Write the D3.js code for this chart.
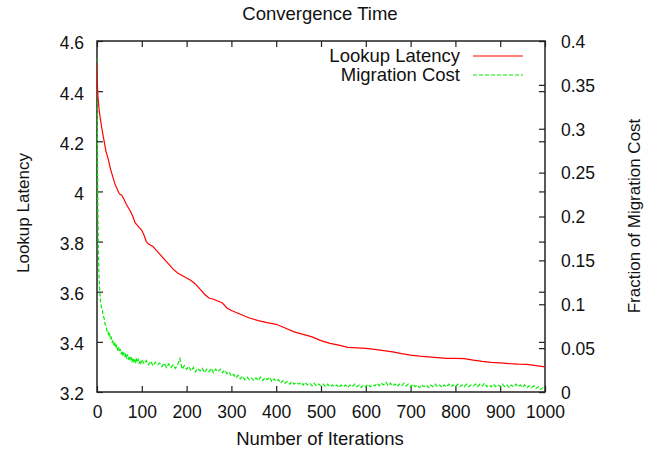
<!DOCTYPE html>
<html><head><meta charset="utf-8">
<script src="https://cdn.jsdelivr.net/npm/d3@7"></script>
<style>
html,body{margin:0;padding:0;background:#fff;}
svg text{font-family:"Liberation Sans",Arial,Helvetica,sans-serif;fill:#111;}
</style></head>
<body><svg id="chart" width="652" height="454"></svg>
<script>
const title = "Convergence Time";
const xLabel = "Number of Iterations";
const yLabel = "Lookup Latency";
const y2Label = "Fraction of Migration Cost";
const seriesNames = ["Lookup Latency", "Migration Cost"];
const xTicks = [0,100,200,300,400,500,600,700,800,900,1000];
const yTicks = [3.2,3.4,3.6,3.8,4,4.2,4.4,4.6];
const y2Ticks = [0,0.05,0.1,0.15,0.2,0.25,0.3,0.35,0.4];

const latencyIter = [0,1,2,5,10,15,20,25,30,35,40,45,50,55,60,65,70,75,80,85,90,95,100,105,110,115,120,125,130,140,150,160,170,180,190,200,210,220,230,240,250,260,270,280,290,300,320,340,360,380,400,420,440,460,480,500,520,540,560,580,600,620,640,660,680,700,720,740,760,780,800,820,840,860,880,900,920,940,960,980,1000];
const latencyVal = [4.51,4.42,4.38,4.32,4.26,4.21,4.16,4.13,4.09,4.06,4.03,4.01,3.99,3.985,3.97,3.95,3.935,3.92,3.90,3.875,3.865,3.855,3.845,3.825,3.80,3.79,3.785,3.78,3.77,3.75,3.73,3.71,3.69,3.675,3.665,3.655,3.645,3.63,3.61,3.59,3.575,3.57,3.563,3.555,3.535,3.525,3.51,3.495,3.485,3.477,3.47,3.455,3.44,3.43,3.42,3.405,3.394,3.387,3.378,3.376,3.374,3.37,3.365,3.36,3.353,3.347,3.343,3.34,3.337,3.334,3.334,3.333,3.327,3.322,3.318,3.316,3.313,3.311,3.31,3.305,3.30];

const costIter = [0,1,2,3,4,5,6,7,8,9,10,
12,14,16,18,20,22,24,26,28,30,32,34,36,38,40,42,44,46,48,50,52,54,56,58,60,62,64,66,68,70,72,74,76,78,80,82,84,86,88,90,92,94,96,98,100,
105,110,115,120,125,130,135,140,145,150,155,160,165,170,175,180,185,190,195,200,
205,210,215,220,225,230,235,240,245,250,255,260,265,270,275,280,285,290,295,300,
305,310,315,320,325,330,335,340,345,350,355,360,365,370,375,380,385,390,395,400,
405,410,415,420,425,430,435,440,445,450,455,460,465,470,475,480,485,490,495,500,
505,510,515,520,525,530,535,540,545,550,555,560,565,570,575,580,585,590,595,600,
605,610,615,620,625,630,635,640,645,650,655,660,665,670,675,680,685,690,695,700,
705,710,715,720,725,730,735,740,745,750,755,760,765,770,775,780,785,790,795,800,
805,810,815,820,825,830,835,840,845,850,855,860,865,870,875,880,885,890,895,900,
905,910,915,920,925,930,935,940,945,950,955,960,965,970,975,980,985,990,995,1000];
const costVal = [0.38,0.29,0.21,0.165,0.14,0.126,0.114,0.109,0.102,0.100,0.096,
0.093,0.086,0.084,0.077,0.076,0.070,0.071,0.064,0.066,0.060,0.062,0.056,0.059,0.053,0.056,0.050,0.054,0.047,0.051,0.046,0.049,0.043,0.047,0.041,0.045,0.040,0.044,0.038,0.043,0.037,0.041,0.036,0.040,0.034,0.039,0.035,0.038,0.033,0.037,0.034,0.038,0.032,0.036,0.033,0.037,
0.032,0.036,0.031,0.035,0.030,0.034,0.031,0.033,0.029,0.033,0.028,0.032,0.028,0.031,0.027,0.031,0.038,0.026,0.030,0.026,
0.029,0.024,0.028,0.023,0.027,0.024,0.027,0.022,0.026,0.023,0.027,0.022,0.026,0.023,0.026,0.022,0.025,0.021,0.023,0.018,
0.020,0.016,0.019,0.015,0.018,0.014,0.017,0.014,0.016,0.013,0.016,0.013,0.017,0.013,0.016,0.014,0.017,0.012,0.015,0.012,
0.014,0.010,0.013,0.010,0.012,0.009,0.012,0.009,0.011,0.009,0.011,0.008,0.011,0.008,0.010,0.007,0.010,0.007,0.009,0.007,
0.009,0.006,0.009,0.006,0.008,0.006,0.008,0.005,0.008,0.006,0.008,0.005,0.008,0.006,0.009,0.006,0.008,0.005,0.008,0.006,
0.009,0.006,0.008,0.007,0.010,0.007,0.010,0.008,0.011,0.007,0.010,0.007,0.009,0.006,0.009,0.007,0.010,0.007,0.009,0.006,
0.009,0.006,0.008,0.005,0.008,0.006,0.008,0.005,0.008,0.006,0.009,0.006,0.008,0.005,0.008,0.006,0.009,0.006,0.008,0.006,
0.009,0.006,0.008,0.006,0.009,0.006,0.008,0.007,0.009,0.006,0.009,0.007,0.010,0.006,0.008,0.006,0.009,0.006,0.008,0.006,
0.009,0.006,0.008,0.005,0.008,0.006,0.009,0.006,0.008,0.005,0.008,0.005,0.007,0.005,0.007,0.004,0.006,0.003,0.005,0.004];

const svg = d3.select("#chart");
const L = 97, R = 545, T = 41, B = 392;
const x = d3.scaleLinear().domain([0,1000]).range([L,R]);
const y = d3.scaleLinear().domain([3.2,4.6]).range([B,T]);
const y2 = d3.scaleLinear().domain([0,0.4]).range([B,T]);
const fsTick = 17.5, fsText = 18.5, fsRot = 17, tickLen = 6, axisColor = "#222";

// title
svg.append("text").attr("x",320).attr("y",20).attr("text-anchor","middle").attr("font-size",fsText).text(title);

// axes with inward ticks
const axB = d3.axisBottom(x).tickValues(xTicks).tickSizeInner(-tickLen).tickSizeOuter(0).tickPadding(14).tickFormat(d3.format("d"));
const axT = d3.axisTop(x).tickValues(xTicks).tickSizeInner(-tickLen).tickSizeOuter(0).tickFormat("");
const axL = d3.axisLeft(y).tickValues(yTicks).tickSizeInner(-tickLen).tickSizeOuter(0).tickPadding(13).tickFormat(d3.format("~g"));
const axLm = d3.axisRight(y).tickValues(yTicks).tickSizeInner(-tickLen).tickSizeOuter(0).tickFormat("");
const axR = d3.axisRight(y2).tickValues(y2Ticks).tickSizeInner(-tickLen).tickSizeOuter(0).tickPadding(16).tickFormat(d3.format("~g"));

function style(g){
  g.select(".domain").remove();
  g.selectAll("line").attr("stroke",axisColor).attr("stroke-width",1.2);
  g.selectAll("text").attr("font-size",fsTick).attr("fill","#111").attr("font-family","'Liberation Sans',Arial,sans-serif");
}
svg.append("g").attr("transform",`translate(0,${B})`).call(axB).call(style);
svg.append("g").attr("transform",`translate(0,${T})`).call(axT).call(style);
svg.append("g").attr("transform",`translate(${L},0)`).call(axL).call(style).selectAll("text").attr("dy","0.45em");
svg.append("g").attr("transform",`translate(${R},0)`).call(axLm).call(style);
svg.append("g").attr("transform",`translate(${R},0)`).call(axR).call(style).selectAll("text").attr("dy","0.36em");

// frame
svg.append("rect").attr("x",L).attr("y",T).attr("width",R-L).attr("height",B-T)
  .attr("fill","none").attr("stroke",axisColor).attr("stroke-width",1.5);

// axis labels
svg.append("text").attr("x",320).attr("y",445).attr("text-anchor","middle").attr("font-size",fsText).text(xLabel);
svg.append("text").attr("transform","translate(29,213) rotate(-90)").attr("text-anchor","middle").attr("font-size",fsRot).text(yLabel);
svg.append("text").attr("transform","translate(640,216) rotate(-90)").attr("text-anchor","middle").attr("font-size",fsRot).text(y2Label);

// lines
const latData = latencyIter.map((d,i)=>[d,latencyVal[i]]);
const costData = costIter.map((d,i)=>[d,costVal[i]]);
const lineL = d3.line().x(d=>x(d[0])).y(d=>y(d[1]));
const lineC = d3.line().x(d=>x(d[0])).y(d=>y2(d[1]));
svg.append("clipPath").attr("id","clip").append("rect").attr("x",L).attr("y",T).attr("width",R-L).attr("height",B-T);
svg.append("path").datum(costData).attr("d",lineC).attr("fill","none").attr("stroke","#00ee00").attr("stroke-width",1.2).attr("stroke-dasharray","4,2").attr("clip-path","url(#clip)");
svg.append("path").datum(latData).attr("d",lineL).attr("fill","none").attr("stroke","#ff0000").attr("stroke-width",1.2).attr("clip-path","url(#clip)");

// legend
const leg = [{name:seriesNames[0],color:"#ff0000",dash:null,y:56},{name:seriesNames[1],color:"#00ee00",dash:"4,2",y:75}];
leg.forEach(l=>{
  svg.append("text").attr("x",460).attr("y",l.y).attr("dy","0.35em").attr("text-anchor","end").attr("font-size",fsText).text(l.name);
  svg.append("line").attr("x1",473).attr("x2",523).attr("y1",l.y).attr("y2",l.y).attr("stroke",l.color).attr("stroke-width",1.2).attr("stroke-dasharray",l.dash);
});
</script></body></html>
